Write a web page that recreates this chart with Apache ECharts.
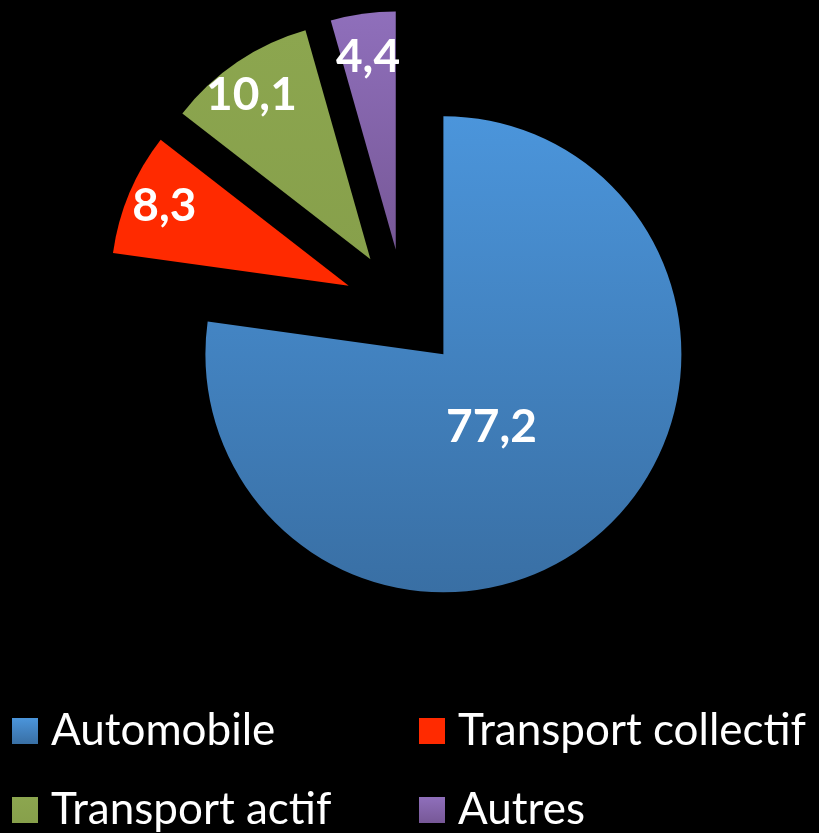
<!DOCTYPE html>
<html>
<head>
<meta charset="utf-8">
<script src="https://cdn.jsdelivr.net/npm/echarts@6/dist/echarts.min.js"></script>
<style>
html,body{margin:0;padding:0;background:#000;}
#chart{width:819px;height:833px;}
</style>
</head>
<body>
<div id="chart"></div>
<script>
var categories = ['Automobile', 'Transport collectif', 'Transport actif', 'Autres'];
var values = [77.2, 8.3, 10.1, 4.4];
var labels = ['77,2', '8,3', '10,1', '4,4'];

var topColors = ['#4B95DB', '#FF2A00', '#8CA64F', '#8F6FBB'];
var bottomColors = ['#396FA4', '#FF2A00', '#87A04B', '#775897'];
// radial distance of each label from the slice apex (px) and a small fine-tune nudge
var labelDist = [90, 200, 202, 194];
var labelNudge = [[-11, 5], [0, -2], [-6, 3], [-1, 0]];

var R = 238, OFFSET = 60;
var total = values.reduce(function(a,b){return a+b;},0);

var data = [];
var labelShift = [];
var acc = 0;
for (var i = 0; i < values.length; i++) {
  var mid = (acc + values[i] / 2) / total * 2 * Math.PI;
  acc += values[i];
  var dx = Math.sin(mid), dy = -Math.cos(mid);
  var def = R / 2 + 3;
  labelShift.push([(labelDist[i] - def) * dx + labelNudge[i][0], (labelDist[i] - def) * dy + labelNudge[i][1]]);
  var grad = {
    type: 'linear', x: 0, y: 0, x2: 0, y2: 1,
    colorStops: [{offset: 0, color: topColors[i]}, {offset: 1, color: bottomColors[i]}]
  };
  data.push({
    name: categories[i],
    value: values[i],
    selected: true,
    itemStyle: {color: grad},
    label: {formatter: labels[i]}
  });
}

var chart = echarts.init(document.getElementById('chart'), null, {renderer: 'canvas'});
var legendText = {color: '#fff', fontSize: 44, lineHeight: 44, fontFamily: 'Lato', padding: [0, 0, 0, 8]};
function makeLegend(left, names) {
  return {
    orient: 'vertical', left: left, top: 709, height: 124,
    itemWidth: 26, itemHeight: 26, itemGap: 35, icon: 'rect',
    data: names, textStyle: legendText, selectedMode: false, padding: 0
  };
}
chart.setOption({
  backgroundColor: '#000',
  animation: false,
  legend: [makeLegend(12, [categories[0], categories[2]]), makeLegend(419, [categories[1], categories[3]])],
  series: [{
    type: 'pie',
    center: [404, 309],
    radius: R,
    startAngle: 90,
    clockwise: true,
    selectedMode: 'multiple',
    selectedOffset: OFFSET,
    avoidLabelOverlap: false,
    label: {
      show: true,
      position: 'inside',
      color: '#fff',
      fontSize: 46,
      fontWeight: 'bold',
      fontFamily: 'Lato'
    },
    labelLayout: function (params) {
      var s = labelShift[params.dataIndex];
      return {dx: s[0], dy: s[1]};
    },
    labelLine: {show: false},
    emphasis: {disabled: true},
    itemStyle: {borderWidth: 0},
    data: data
  }]
});
</script>
</body>
</html>
